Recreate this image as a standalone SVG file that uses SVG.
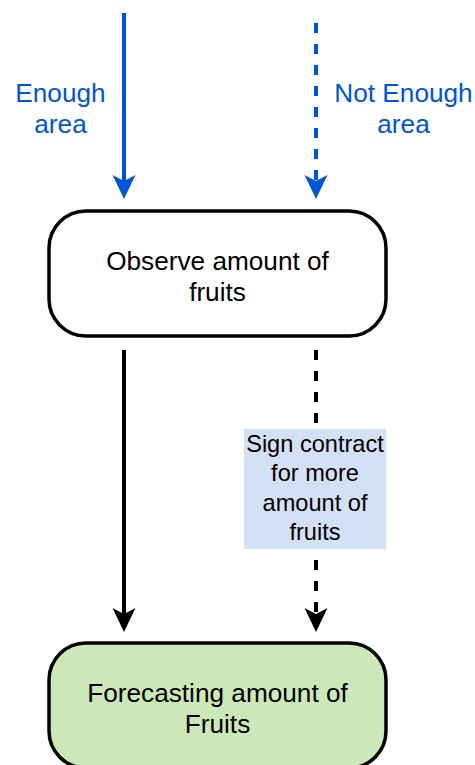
<svg xmlns="http://www.w3.org/2000/svg" width="475" height="765" viewBox="0 0 475 765">
  <style>
    text { font-family: "Liberation Sans", Arial, sans-serif; text-anchor: middle; }
    .big { font-size: 26.2px; }
    .lbl { font-size: 23.6px; fill: #000; }
    .blue { fill: #0055d4; }
    .node { stroke: #000; stroke-width: 3.5; }
    .edge { fill: none; stroke-width: 4; }
    .dash { stroke-dasharray: 10 11; }
  </style>
  <defs>
    <marker id="ahBlue" markerUnits="userSpaceOnUse" viewBox="-1 -13 26 26" markerWidth="26" markerHeight="26" refX="6" refY="0" orient="auto">
      <path d="M0,-11.5 L24,0 L0,11.5 L6,0 Z" fill="#0055d4"/>
    </marker>
    <marker id="ahBlack" markerUnits="userSpaceOnUse" viewBox="-1 -13 26 26" markerWidth="26" markerHeight="26" refX="6" refY="0" orient="auto">
      <path d="M0,-11.5 L24,0 L0,11.5 L6,0 Z" fill="#000"/>
    </marker>
  </defs>

  <g id="connectors">
    <line class="edge" x1="124" y1="13" x2="124" y2="181" stroke="#0055d4" marker-end="url(#ahBlue)"/>
    <line class="edge dash" x1="316" y1="23" x2="316" y2="181" stroke="#0055d4" marker-end="url(#ahBlue)"/>
    <line class="edge" x1="124" y1="350" x2="124" y2="614" stroke="#000" marker-end="url(#ahBlack)"/>
    <line class="edge dash" x1="316" y1="350" x2="316" y2="614" stroke="#000" marker-end="url(#ahBlack)"/>
    <g id="label-enough">
      <text class="big blue" x="60.5" y="102">Enough</text>
      <text class="big blue" x="60.5" y="133">area</text>
    </g>
    <g id="label-not-enough">
      <text class="big blue" x="403.5" y="102">Not Enough</text>
      <text class="big blue" x="403.5" y="133">area</text>
    </g>
    <g id="label-sign">
      <rect x="244" y="429" width="142" height="120" fill="#d4e1f5"/>
      <text class="lbl" x="315" y="452">Sign contract</text>
      <text class="lbl" x="315" y="481">for more</text>
      <text class="lbl" x="315" y="511">amount of</text>
      <text class="lbl" x="315" y="540">fruits</text>
    </g>
  </g>

  <g id="observe">
    <rect class="node" x="49" y="211" width="337" height="125" rx="37" ry="37" fill="#fff"/>
    <text class="big" x="217.5" y="270">Observe amount of</text>
    <text class="big" x="217.5" y="301">fruits</text>
  </g>

  <g id="forecast">
    <rect class="node" x="49" y="643" width="337" height="125" rx="37" ry="37" fill="#cde8b8"/>
    <text class="big" x="217.5" y="702">Forecasting amount of</text>
    <text class="big" x="217.5" y="733">Fruits</text>
  </g>
</svg>
